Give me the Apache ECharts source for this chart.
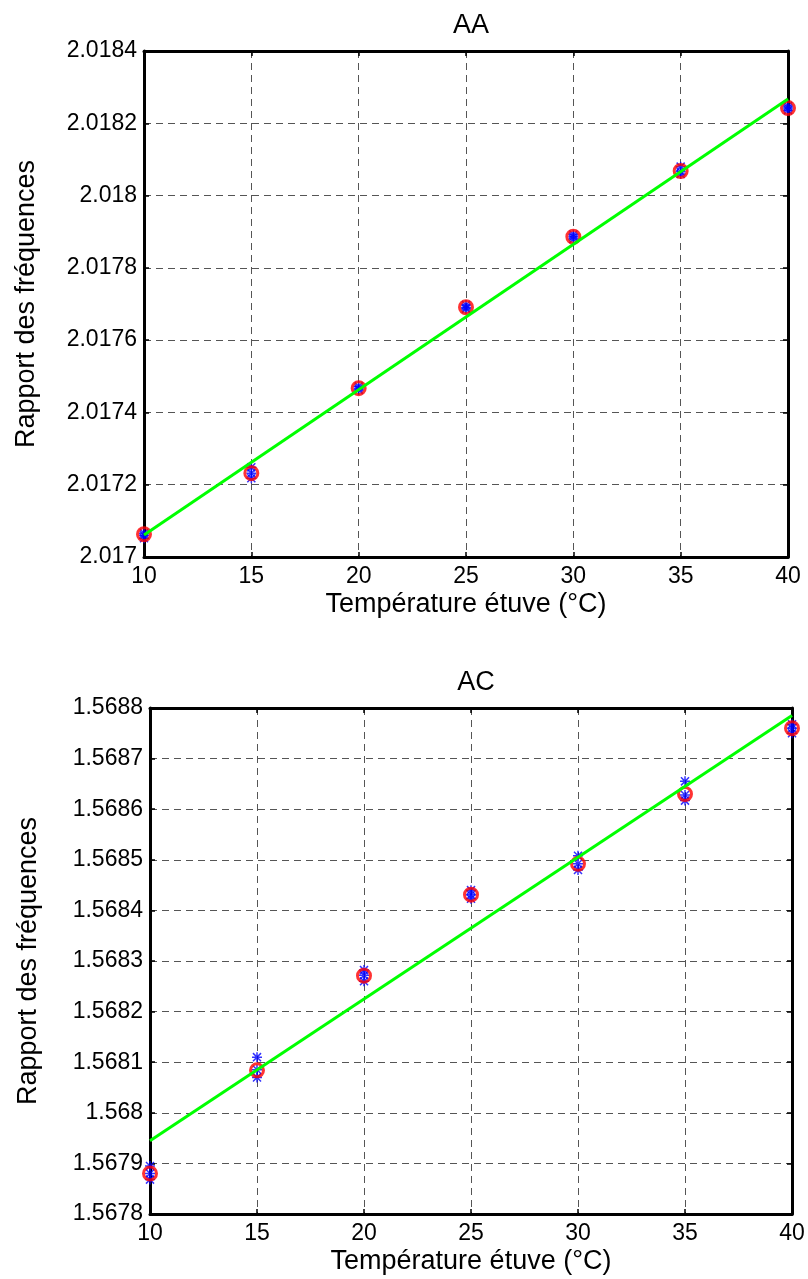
<!DOCTYPE html>
<html>
<head>
<meta charset="utf-8">
<title>AA / AC</title>
<script src="https://cdn.jsdelivr.net/npm/echarts@6/dist/echarts.min.js"></script>
<style>
html, body { margin: 0; padding: 0; background: #fff; }
#chart { width: 808px; height: 1279px; }
</style>
</head>
<body>
<div id="chart"></div>
<script>
// temperatures (°C)
var temps = [10, 15, 20, 25, 30, 35, 40];

// AA : individual measurements (blue *) and means (red o)
var aaMeasures = [
	[2.017066, 2.017060, 2.017052],
	[2.017248, 2.017232, 2.017218],
	[2.017472, 2.017466, 2.017462],
	[2.017697, 2.017690, 2.017686],
	[2.017892, 2.017886, 2.017880],
	[2.018080, 2.018066, 2.018060],
	[2.018248, 2.018242, 2.018236]
];
var aaMeans = [2.017063, 2.017232, 2.017467, 2.017691, 2.017886, 2.018068, 2.018242];
var aaFitX = [10, 40];
var aaFitY = [2.017061, 2.018267];
var aaTicks = [2.017, 2.0172, 2.0174, 2.0176, 2.0178, 2.018, 2.0182, 2.0184];

// AC
var acMeasures = [
	[1.567895, 1.567880, 1.567868],
	[1.568110, 1.568085, 1.568070],
	[1.568282, 1.568272, 1.568260],
	[1.568440, 1.568431, 1.568423],
	[1.568508, 1.568492, 1.568480],
	[1.568655, 1.568628, 1.568617],
	[1.568768, 1.568760, 1.568750]
];
var acMeans = [1.567880, 1.568084, 1.568271, 1.568431, 1.568492, 1.568630, 1.568760];
var acFitX = [10, 40];
var acFitY = [1.567945, 1.568785];
var acTicks = [1.5678, 1.5679, 1.568, 1.5681, 1.5682, 1.5683, 1.5684, 1.5685, 1.5686, 1.5687, 1.5688];

var FONT = "'Liberation Sans', Arial, sans-serif";
var TICK_SIZE = 23, LABEL_SIZE = 27;
var STAR = 'path://M8.5 0L11.5 0L11.5 20L8.5 20Z M0 8.5L20 8.5L20 11.5L0 11.5Z M3 0.9L19.1 17L17 19.1L0.9 3Z M17 0.9L19.1 3L3 19.1L0.9 17Z';

function pairs(xs, ys) {
	var out = [];
	for (var i = 0; i < xs.length; i++) {
		out.push([xs[i], ys[i]]);
	}
	return out;
}

function starPoints(xs, lists) {
	var out = [];
	for (var i = 0; i < xs.length; i++) {
		for (var j = 0; j < lists[i].length; j++) {
			out.push([xs[i], lists[i][j]]);
		}
	}
	return out;
}

var gridLine = { show: true, lineStyle: { color: '#555', width: 1, type: [7, 5] } };
var frame = { show: true, onZero: false, lineStyle: { color: '#000', width: 3 } };
var tick = { show: true, inside: true, length: 5, lineStyle: { color: '#000', width: 1.5 } };

function xAxes(gridIndex) {
	var main = {
		type: 'value', gridIndex: gridIndex, position: 'bottom',
		min: temps[0], max: temps[temps.length - 1], interval: 5,
		name: 'Température étuve (°C)', nameLocation: 'middle', nameGap: 34,
		nameTextStyle: { fontFamily: FONT, fontSize: LABEL_SIZE, color: '#000' },
		axisLine: frame, axisTick: tick, splitLine: gridLine,
		axisLabel: { fontFamily: FONT, fontSize: TICK_SIZE, color: '#000', margin: 8 }
	};
	var top = {
		type: 'value', gridIndex: gridIndex, position: 'top',
		min: temps[0], max: temps[temps.length - 1], interval: 5,
		axisLine: frame, axisTick: tick, splitLine: { show: false }, axisLabel: { show: false }
	};
	return [main, top];
}

function yAxes(gridIndex, ticks, gap) {
	var step = +(ticks[1] - ticks[0]).toFixed(6);
	var main = {
		type: 'value', gridIndex: gridIndex, position: 'left',
		min: ticks[0], max: ticks[ticks.length - 1], interval: step,
		name: 'Rapport des fréquences', nameLocation: 'middle', nameGap: gap, nameRotate: 90,
		nameTextStyle: { fontFamily: FONT, fontSize: LABEL_SIZE, color: '#000' },
		axisLine: frame, axisTick: tick, splitLine: gridLine,
		axisLabel: {
			fontFamily: FONT, fontSize: TICK_SIZE, color: '#000', margin: 7,
			formatter: function (v) { return String(+v.toFixed(5)); }
		}
	};
	var right = {
		type: 'value', gridIndex: gridIndex, position: 'right',
		min: ticks[0], max: ticks[ticks.length - 1], interval: step,
		axisLine: frame, axisTick: tick, splitLine: { show: false }, axisLabel: { show: false }
	};
	return [main, right];
}

function plotSeries(axisIdx, measures, means, fitX, fitY) {
	return [{
		type: 'scatter', xAxisIndex: axisIdx, yAxisIndex: axisIdx, z: 3,
		symbol: STAR, symbolSize: 10, itemStyle: { color: '#0000ff' },
		data: starPoints(temps, measures)
	}, {
		type: 'scatter', xAxisIndex: axisIdx, yAxisIndex: axisIdx, z: 4,
		symbol: 'circle', symbolSize: 13,
		itemStyle: { color: 'rgba(0,0,0,0)', borderColor: '#ff0000', borderWidth: 3 },
		data: pairs(temps, means)
	}, {
		type: 'line', xAxisIndex: axisIdx, yAxisIndex: axisIdx, z: 5,
		symbol: 'none', lineStyle: { color: '#00ff00', width: 3 },
		data: pairs(fitX, fitY)
	}];
}

var myChart = echarts.init(document.getElementById('chart'), null, { renderer: 'canvas' });

var xs = xAxes(0).concat(xAxes(1));
var ys = yAxes(0, aaTicks, 104).concat(yAxes(1, acTicks, 108));

var titleStyle = { fontFamily: FONT, fontSize: LABEL_SIZE, fontWeight: 'normal', color: '#000' };

var option = {
	backgroundColor: '#fff',
	animation: false,
	textStyle: { fontFamily: FONT },
	title: [
		{ text: 'AA', left: 466, top: 7, textAlign: 'center', textStyle: titleStyle },
		{ text: 'AC', left: 471, top: 664, textAlign: 'center', textStyle: titleStyle }
	],
	grid: [
		{ left: 144, right: 20, top: 51, height: 506 },
		{ left: 150, right: 16, top: 708, height: 506 }
	],
	xAxis: xs,
	yAxis: ys,
	// second plot uses axes 2 (bottom / left of grid 1)
	series: plotSeries(0, aaMeasures, aaMeans, aaFitX, aaFitY)
		.concat(plotSeries(2, acMeasures, acMeans, acFitX, acFitY))
};

myChart.setOption(option, true);
</script>
</body>
</html>
